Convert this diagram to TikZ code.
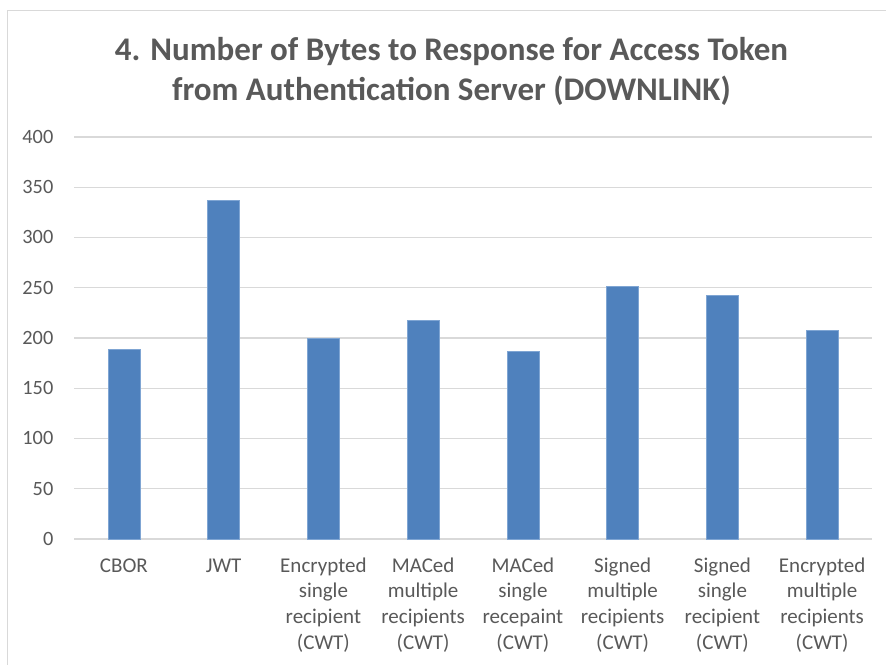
\documentclass[tikz,border=0pt]{standalone}
\usepackage{fontspec}
\setmainfont{Carlito}
\definecolor{txt}{HTML}{595959}
\definecolor{grid}{HTML}{D9D9D9}
\definecolor{barfill}{HTML}{4F81BD}
\definecolor{baredge}{HTML}{7FA5D3}
\begin{document}
\begin{tikzpicture}[x=1pt,y=-1pt,
  gridline/.style={draw=grid,line width=1.1pt},
  frameline/.style={draw=grid,line width=1.3pt},
  bar/.style={fill=barfill,draw=baredge,line width=0.7pt},
  ticklabel/.style={anchor=base east,inner sep=0pt,text=txt,font=\fontsize{20.3}{24}\selectfont},
  catlabel/.style={anchor=base,inner sep=0pt,text=txt,align=center,font=\fontsize{21}{25.8}\selectfont},
  charttitle/.style={anchor=base,inner sep=0pt,text=txt,align=center,font=\bfseries\fontsize{33}{39.3}\selectfont}]
\useasboundingbox (0,0) rectangle (886,664);
\fill[white] (0,0) rectangle (886,664);
% chart frame (left and top edges)
\draw[frameline] (7.5,670) -- (7.5,10.5) -- (892,10.5);
% title (anchor base sits on the last line)
\node[charttitle] (title) at (451.5,100) {4. Number of Bytes to Response for Access Token\\from Authentication Server (DOWNLINK)};
% gridlines and value axis labels
\foreach \v in {0,50,...,400}{
  \draw[gridline] (74,{539-1.005*\v}) -- (872,{539-1.005*\v});
  \node[ticklabel] (tick\v) at (53.5,{539-1.005*\v+6.4}) {\v};
}
% bars
\foreach \i/\v in {0/188.5,1/337,2/200,3/218,4/187,5/251.5,6/242.5,7/207.5}{
  \path[bar] ({123.9+99.75*\i-16},539) rectangle ({123.9+99.75*\i+16},{539-1.005*\v});
}
% category labels: \n is the number of lines, the base anchor is on the last one
\foreach \i/\n/\t in {0/1/CBOR,1/1/JWT,2/4/{Encrypted\\single\\recipient\\(CWT)},3/4/{MACed\\multiple\\recipients\\(CWT)},4/4/{MACed\\single\\recepaint\\(CWT)},5/4/{Signed\\multiple\\recipients\\(CWT)},6/4/{Signed\\single\\recipient\\(CWT)},7/4/{Encrypted\\multiple\\recipients\\(CWT)}}{
  \node[catlabel] (cat\i) at ({123.9+99.75*\i},{572+25.8*(\n-1)}) {\t};
}
\end{tikzpicture}
\end{document}
